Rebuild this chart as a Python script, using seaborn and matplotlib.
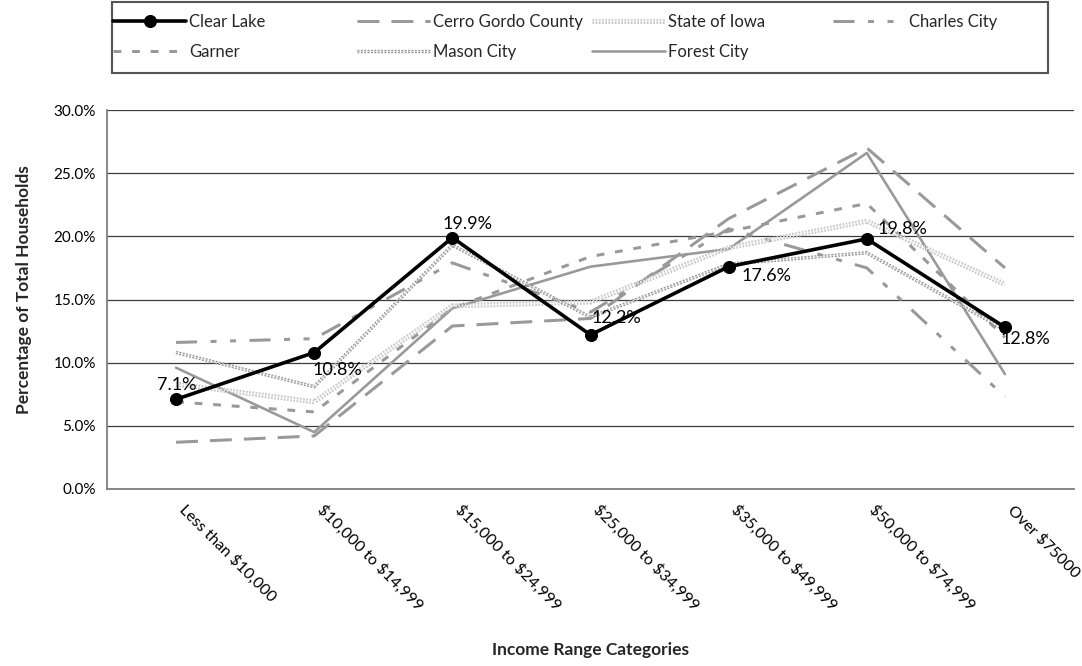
import numpy as np
import matplotlib
matplotlib.use("Agg")
import matplotlib.pyplot as plt
import matplotlib.patheffects as pe
from matplotlib.patches import Rectangle
import seaborn as sns

# ---- data -------------------------------------------------------------
categories = ["Less than $10,000", "$10,000 to $14,999", "$15,000 to $24,999",
              "$25,000 to $34,999", "$35,000 to $49,999", "$50,000 to $74,999",
              "Over $75000"]

clear_lake   = [7.1, 10.8, 19.9, 12.2, 17.6, 19.8, 12.8]
cerro_gordo  = [3.7, 4.2, 12.9, 13.5, 21.4, 27.0, 17.5]
state_iowa   = [8.3, 6.9, 14.5, 14.8, 19.1, 21.2, 16.2]
charles_city = [11.6, 11.9, 17.9, 14.0, 20.6, 17.5, 7.3]
garner       = [6.9, 6.1, 14.3, 18.4, 20.4, 22.6, 12.0]
mason_city   = [10.8, 8.1, 19.3, 13.6, 17.8, 18.7, 12.6]
forest_city  = [9.6, 4.5, 14.3, 17.6, 19.0, 26.6, 9.1]

y_ticks = [0, 5, 10, 15, 20, 25, 30]

# ---- style ------------------------------------------------------------
sns.set_theme(style="white")
plt.rcParams["font.family"] = ["Lato", "DejaVu Sans"]
plt.rcParams["text.parse_math"] = False

W, H = 1082, 666
DPI = 100
PX = 72.0 / DPI          # points per pixel
GRAY = "#999999"

fig = plt.figure(figsize=(W / DPI, H / DPI), dpi=DPI)
ax = fig.add_axes([107 / W, 1 - 489 / H, (1074 - 107) / W, (489 - 110) / H])

# gray comparison series
sns.lineplot(x=categories, y=cerro_gordo, ax=ax, color=GRAY, lw=3 * PX,
             linestyle=(0, (7.3, 4)), label="Cerro Gordo County", legend=False)
sns.lineplot(x=categories, y=forest_city, ax=ax, color=GRAY, lw=2.6 * PX,
             label="Forest City", legend=False)
sns.lineplot(x=categories, y=garner, ax=ax, color=GRAY, lw=3 * PX,
             linestyle=(0, (2.6, 3.6)), label="Garner", legend=False)
sns.lineplot(x=categories, y=charles_city, ax=ax, color=GRAY, lw=3 * PX,
             linestyle=(0, (7, 4.5, 2, 4.5, 2, 4.5)), label="Charles City",
             legend=False)

# textured series: a light/dark stroke with a dotted core
sns.lineplot(x=categories, y=state_iowa, ax=ax, color="#efefef", lw=1.6 * PX,
             linestyle=(0, (1, 1)), label="State of Iowa", legend=False)
ax.lines[-1].set_path_effects([pe.Stroke(linewidth=5 * PX, foreground="#c2c2c2"),
                               pe.Normal()])
sns.lineplot(x=categories, y=mason_city, ax=ax, color="#dcdcdc", lw=1.3 * PX,
             linestyle=(0, (1.4, 1.2)), label="Mason City", legend=False)
ax.lines[-1].set_path_effects([pe.Stroke(linewidth=3.4 * PX, foreground="#8a8a8a"),
                               pe.Normal()])

# highlighted series on top
sns.lineplot(x=categories, y=clear_lake, ax=ax, color="black", lw=3.6 * PX,
             marker="o", markersize=12 * PX, markeredgecolor="black",
             markerfacecolor="black", label="Clear Lake", legend=False)

# value labels on Clear Lake (offsets in pixels: dx, dy-down, alignment)
label_offsets = [(1, -14, "center"), (-2, 17, "left"), (-10, -14, "left"),
                 (1, -17, "left"), (13, 9, "left"), (11, -9.5, "left"),
                 (-4, 12, "left")]
for i, (v, (dx, dy, ha)) in enumerate(zip(clear_lake, label_offsets)):
    ax.annotate(f"{v:.1f}%", xy=(i, v), xytext=(dx * PX, -dy * PX),
                textcoords="offset points", ha=ha, va="center",
                fontsize=13, color="black", zorder=10)

# ---- axes -------------------------------------------------------------
ax.set_ylim(0, 30)
ax.set_xlim(-0.5, len(categories) - 0.5)
ax.set_yticks(y_ticks)
ax.set_yticklabels([f"{t:.1f}%" for t in y_ticks])
ax.yaxis.grid(True, color="#3c3c3c", lw=0.9)
ax.set_axisbelow(True)
ax.set_xlabel("")
ax.set_ylabel("")

for s in ("top", "right"):
    ax.spines[s].set_visible(False)
for s in ("left", "bottom"):
    ax.spines[s].set_color("#808080")
    ax.spines[s].set_linewidth(1.3)

ax.tick_params(axis="y", which="major", length=5, width=1, color="#808080",
               direction="out", labelsize=11, pad=3, labelcolor="black")
ax.set_xticks(range(len(categories)))
ax.set_xticklabels(categories, rotation=-45, ha="left", va="bottom",
                   rotation_mode="anchor", fontsize=11.5)
ax.set_xticks(np.arange(-0.5, len(categories), 1.0), minor=True)
ax.tick_params(axis="x", which="major", length=0, pad=17, labelcolor="black")
ax.tick_params(axis="x", which="minor", length=6, width=1, color="#808080",
               direction="out")

fig.text(24 / W, 1 - 290 / H, "Percentage of Total Households", rotation=90,
         ha="center", va="center", fontsize=12.5, fontweight="bold")
fig.text(590 / W, 1 - 650 / H, "Income Range Categories", ha="center",
         va="center", fontsize=12.5, fontweight="bold")

# ---- legend: equal-width grid inside one frame ------------------------
handles, labels = ax.get_legend_handles_labels()
lookup = dict(zip(labels, handles))
legend_rows = [["Clear Lake", "Cerro Gordo County", "State of Iowa", "Charles City"],
               ["Garner", "Mason City", "Forest City"]]
col_x = [113, 357, 592, 833]
row_y = [22, 52]
for r, row in enumerate(legend_rows):
    for c, name in enumerate(row):
        fig.legend(handles=[lookup[name]], labels=[name], loc="center left",
                   bbox_to_anchor=(col_x[c] / W, 1 - row_y[r] / H),
                   frameon=False, borderpad=0, borderaxespad=0,
                   handlelength=4.4, handletextpad=0.15, fontsize=12,
                   numpoints=1)
fig.add_artist(Rectangle((112 / W, 1 - 73 / H), (1048 - 112) / W, 71 / H,
                         transform=fig.transFigure, fill=False,
                         edgecolor="#555555", lw=1.5))

fig.savefig("out.png", dpi=DPI)
